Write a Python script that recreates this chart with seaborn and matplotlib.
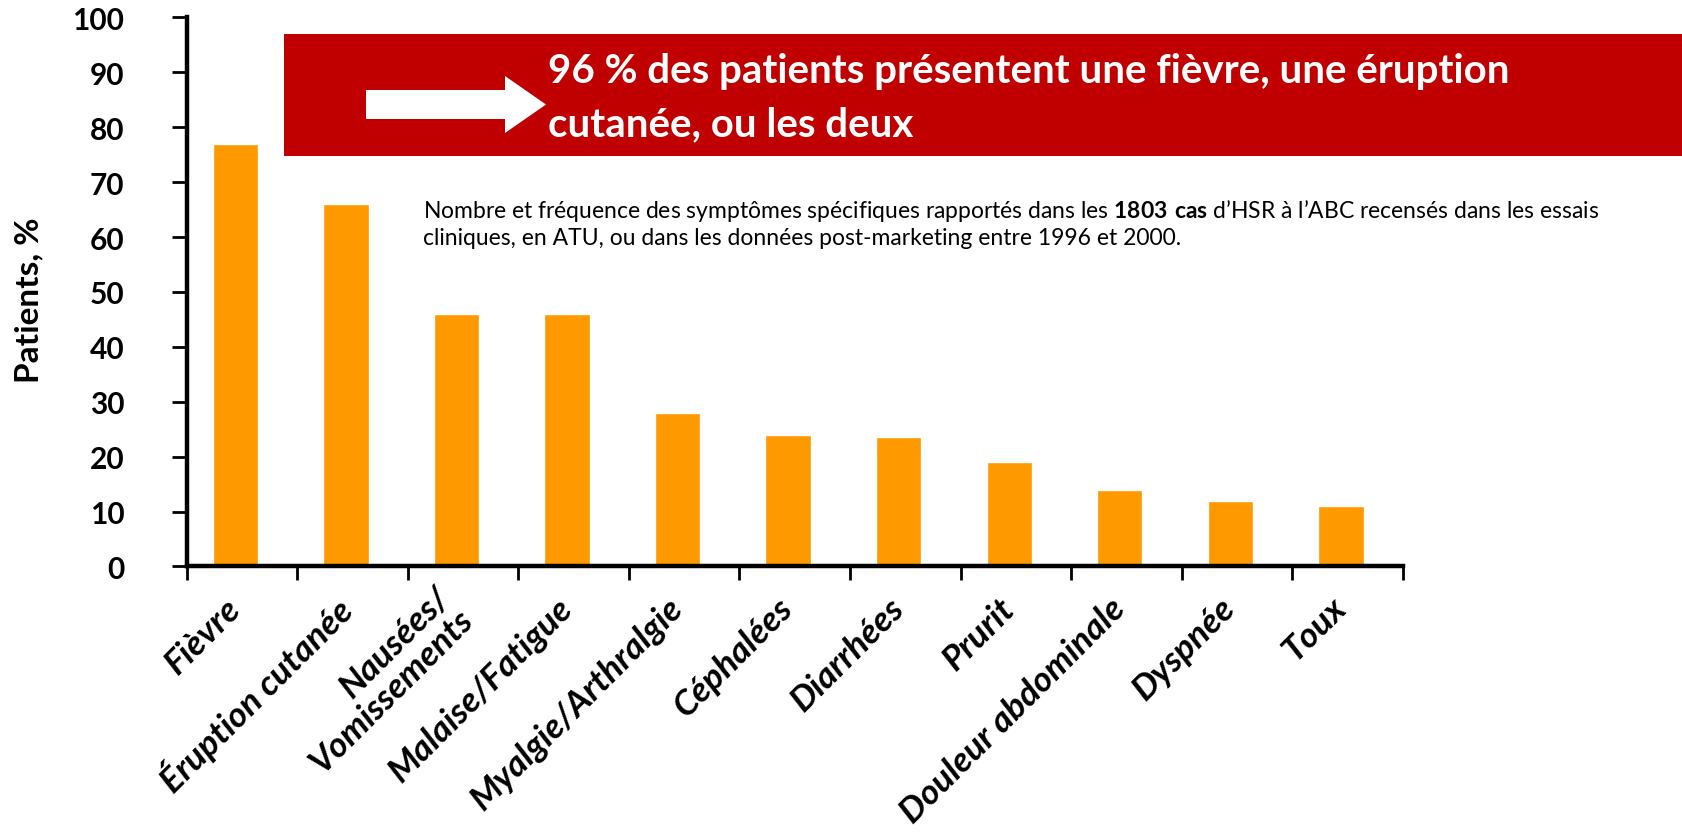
"""Symptom frequency in abacavir HSR cases: orange bar chart with red banner."""

import matplotlib.pyplot as plt
import numpy as np
import seaborn as sns
from matplotlib.patches import Polygon, Rectangle

symptoms = ["Fièvre", "Éruption cutanée", "Nausées/\nVomissements", "Malaise/Fatigue",
            "Myalgie/Arthralgie", "Céphalées", "Diarrhées", "Prurit",
            "Douleur abdominale", "Dyspnée", "Toux"]
patients_pct = [77, 66, 46, 46, 28, 24, 23.5, 19, 14, 12, 11]
y_ticks = [0, 10, 20, 30, 40, 50, 60, 70, 80, 90, 100]

banner_lines = ["96 % des patients présentent une fièvre, une éruption",
                "cutanée, ou les deux"]
note_line1 = ("Nombre et fréquence des symptômes spécifiques rapportés dans les "
              r"$\bf{1803\ cas}$ d’HSR à l’ABC recensés dans les essais")
note_line2 = "cliniques, en ATU, ou dans les données post-marketing entre 1996 et 2000."

ORANGE = "#FF9900"
RED = "#C00000"

sns.set_theme(style="white")
plt.rcParams["font.family"] = ["Lato", "DejaVu Sans"]
plt.rcParams["mathtext.fontset"] = "custom"
plt.rcParams["mathtext.bf"] = "Lato:bold"
plt.rcParams["mathtext.rm"] = "Lato"
for key in ["text.color", "axes.labelcolor", "xtick.color", "ytick.color"]:
    plt.rcParams[key] = "black"

fig = plt.figure(figsize=(16.82, 8.37), dpi=100)
ax = fig.add_axes([0.111, 0.322, 0.723, 0.656])

sns.barplot(x=list(range(len(symptoms))), y=patients_pct, color=ORANGE,
            width=0.41, saturation=1, ax=ax, native_scale=True)

# bars sit slightly left of the centre of each tick interval
shift = 0.06
ax.set_xlim(-0.5 + shift, len(symptoms) - 0.5 + shift)
ax.set_ylim(0, 100)
ax.set_yticks(y_ticks)
ax.set_yticklabels([str(t) for t in y_ticks], fontsize=21.5, fontweight="bold")
ax.set_ylabel("")
ax.set_xlabel("")
fig.text(29 / 1682, 1 - 300 / 837, "Patients, %", rotation=90, fontsize=24,
         fontweight="bold", ha="center", va="center")

# boundary ticks (major) and category labels (minor)
ax.set_xticks(np.arange(-0.5, len(symptoms), 1.0) + shift)
ax.set_xticklabels([])
ax.set_xticks(np.arange(len(symptoms)), minor=True)
ax.set_xticklabels(symptoms, minor=True, rotation=45, ha="right", va="center",
                   rotation_mode="anchor", fontsize=25.5, fontweight="bold",
                   fontstyle="italic", linespacing=1.0)
ax.tick_params(axis="x", which="major", direction="out", length=10, width=2,
               color="black", bottom=True)
ax.tick_params(axis="x", which="minor", length=0, pad=26)
ax.tick_params(axis="y", direction="out", length=11, width=2, color="black",
               left=True, pad=34)

for side in ["top", "right"]:
    ax.spines[side].set_visible(False)
for side in ["left", "bottom"]:
    ax.spines[side].set_linewidth(3.2)
    ax.spines[side].set_color("black")
ax.grid(False)

# overlay in figure pixel space for the banner and note
ov = fig.add_axes([0, 0, 1, 1], zorder=5)
ov.set_xlim(0, 1682)
ov.set_ylim(837, 0)
ov.axis("off")
ov.patch.set_alpha(0)

ov.add_patch(Rectangle((284, 35), 1682 - 284, 122, color=RED, lw=0))
ov.add_patch(Polygon([(366, 91), (505, 91), (505, 77), (546, 105.5), (505, 134),
                      (505, 120), (366, 120)], closed=True, color="white", lw=0))
for line, base in zip(banner_lines, [83, 136]):
    ov.text(548, base, line, color="white", fontsize=29, fontweight="bold",
            ha="left", va="baseline")

ov.text(423, 211, note_line1, fontsize=16.5, ha="left", va="center")
ov.text(423, 238, note_line2, fontsize=16.5, ha="left", va="center")

fig.savefig("out.png", dpi=100)
plt.close(fig)
